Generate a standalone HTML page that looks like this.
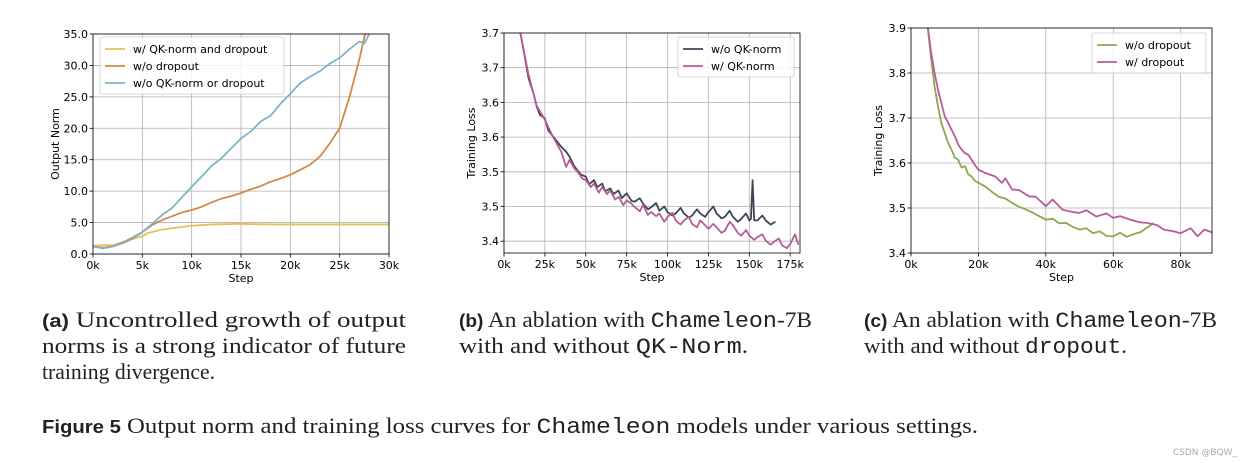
<!DOCTYPE html>
<html><head><meta charset="utf-8"><style>
body{margin:0;background:#fff;}
svg{display:block;font-family:"DejaVu Sans","Liberation Sans",sans-serif;}
.cap{font-family:"Liberation Serif",serif;font-size:22px;fill:#222;}
.tt{font-family:"Liberation Mono",monospace;}
.bl{font-family:"Liberation Sans",sans-serif;font-weight:bold;}
</style></head><body>
<svg id="fig" width="1243" height="463" viewBox="0 0 1243 463">
<g id="c1"></g>
<g id="c2"></g>
<g id="c3"></g>
<g>
<text class="cap" x="42" y="327" textLength="364" lengthAdjust="spacingAndGlyphs"><tspan class="bl" font-size="18">(a)</tspan>  Uncontrolled growth of output</text>
<text class="cap" x="42" y="353" textLength="364" lengthAdjust="spacingAndGlyphs">norms is a strong indicator of future</text>
<text class="cap" x="42" y="379" textLength="173" lengthAdjust="spacingAndGlyphs">training divergence.</text>
</g>
<g>
<text class="cap" x="459" y="327" textLength="353" lengthAdjust="spacingAndGlyphs"><tspan class="bl" font-size="18">(b)</tspan> An ablation with <tspan class="tt">Chameleon</tspan>-7B</text>
<text class="cap" x="459" y="353" textLength="289" lengthAdjust="spacingAndGlyphs">with and without <tspan class="tt">QK-Norm</tspan>.</text>
</g>
<g>
<text class="cap" x="864" y="327" textLength="353" lengthAdjust="spacingAndGlyphs"><tspan class="bl" font-size="18">(c)</tspan> An ablation with <tspan class="tt">Chameleon</tspan>-7B</text>
<text class="cap" x="864" y="353" textLength="263" lengthAdjust="spacingAndGlyphs">with and without <tspan class="tt">dropout</tspan>.</text>
</g>
<text class="cap" x="42" y="433" textLength="936" lengthAdjust="spacingAndGlyphs"><tspan class="bl" font-size="18">Figure 5</tspan>  Output norm and training loss curves for <tspan class="tt">Chameleon</tspan> models under various settings.</text>
<text x="1237" y="455" text-anchor="end" font-size="9" fill="#aaa">CSDN @BQW_</text>
</svg>
<script>
// ---- Chart A data ----
const aTicksX=[0,5,10,15,20,25,30];
const aTickLabelsX=["0k","5k","10k","15k","20k","25k","30k"];
const aTicksY=[0,5,10,15,20,25,30,35];
const aTickLabelsY=["0.0","5.0","10.0","15.0","20.0","25.0","30.0","35.0"];
const aYellowX=[0,1,2,3,4,5,5.5,6,7,8,10,12,15,18,20,25,30];
const aYellowY=[1.3,1.4,1.4,1.9,2.4,2.8,3.3,3.5,3.9,4.1,4.5,4.7,4.8,4.7,4.7,4.7,4.7];
const aOrangeX=[0,1,2,3,4,5,6,7,8,9,10,11,12,13,14,15,16,17,18,19,20,21,22,23,24,25,25.5,26,26.5,27,27.5,27.8];
const aOrangeY=[1.2,1.0,1.2,1.8,2.6,3.5,4.6,5.4,6.0,6.6,7.0,7.5,8.2,8.8,9.2,9.7,10.3,10.8,11.5,12.0,12.6,13.4,14.2,15.5,17.6,20.0,22.5,25.0,28.0,31.0,34.5,36];
const aBlueX=[0,1,2,3,4,5,6,7,8,9,10,11,12,13,14,15,16,17,18,19,20,21,22,23,24,25,26,27,27.5,28,28.5];
const aBlueY=[1.2,0.9,1.2,1.7,2.4,3.5,4.8,6.2,7.3,9.0,10.7,12.3,14.0,15.2,16.8,18.4,19.5,21.1,22.0,23.9,25.5,27.2,28.2,29.1,30.3,31.2,32.6,33.8,33.5,35,35.5];
// ---- Chart B data ----
const bTicksX=[0,25,50,75,100,125,150,175];
const bTickLabelsX=["0k","25k","50k","75k","100k","125k","150k","175k"];
const bTicksY=[3.40,3.45,3.50,3.55,3.60,3.65,3.70];
const bTickLabelsY=["3.4","3.5","3.5","3.6","3.6","3.7","3.7"];
const bDarkX=[10,13,15,18,20,22,25,27,30,33,35,38,40,43,45,47,50,52,55,57,60,62,65,67,70,72,75,78,80,83,85,88,90,93,95,98,100,103,105,108,110,113,115,118,120,123,125,128,130,133,135,138,140,143,145,148,150,151,152,153,155,158,160,163,166];
const bDarkY=[3.70,3.662,3.635,3.613,3.594,3.582,3.577,3.560,3.551,3.542,3.536,3.529,3.522,3.508,3.502,3.496,3.493,3.482,3.488,3.478,3.483,3.472,3.476,3.468,3.473,3.462,3.469,3.458,3.457,3.462,3.454,3.446,3.449,3.455,3.444,3.450,3.442,3.437,3.440,3.448,3.440,3.434,3.437,3.446,3.440,3.435,3.442,3.450,3.440,3.433,3.435,3.444,3.435,3.428,3.432,3.440,3.430,3.432,3.488,3.430,3.430,3.437,3.430,3.424,3.428];
const bPinkX=[10,15,20,25,30,35,38,40,43,45,48,50,53,55,58,60,63,65,68,70,73,75,78,80,83,85,88,90,93,95,98,100,103,105,108,110,113,115,118,120,123,125,128,130,133,135,138,140,143,145,148,150,153,155,158,160,163,165,168,170,173,175,178,180];
const bPinkY=[3.70,3.64,3.595,3.575,3.55,3.529,3.507,3.517,3.505,3.50,3.49,3.488,3.478,3.483,3.47,3.478,3.468,3.473,3.46,3.464,3.452,3.459,3.454,3.449,3.443,3.452,3.438,3.442,3.436,3.44,3.428,3.435,3.441,3.43,3.424,3.43,3.435,3.425,3.42,3.43,3.423,3.418,3.425,3.42,3.412,3.415,3.428,3.423,3.412,3.408,3.416,3.408,3.402,3.406,3.41,3.401,3.395,3.399,3.404,3.394,3.39,3.396,3.41,3.395];
// ---- Chart C data ----
const cTicksX=[0,20,40,60,80];
const cTickLabelsX=["0k","20k","40k","60k","80k"];
const cTicksY=[3.4,3.5,3.6,3.7,3.8,3.9];
const cTickLabelsY=["3.4","3.5","3.6","3.7","3.8","3.9"];
const cGreenX=[5,6,7,8,9,10,11,12,13,14,15,16,17,18,19,20,22,24,26,28,30,32,34,36,38,40,42,44,46,48,50,52,54,56,58,60,62,64,66,68,70,72];
const cGreenY=[3.9,3.83,3.77,3.726,3.689,3.667,3.645,3.63,3.612,3.607,3.59,3.593,3.575,3.57,3.56,3.556,3.548,3.536,3.525,3.521,3.511,3.503,3.497,3.49,3.482,3.474,3.476,3.466,3.467,3.458,3.452,3.455,3.444,3.448,3.438,3.437,3.445,3.436,3.442,3.446,3.456,3.467];
const cPinkX=[5,6,7,8,9,10,11,12,13,14,15,16,17,18,19,20,22,25,27,28,30,32,35,37,40,42,45,48,50,52,55,58,60,62,65,68,70,73,75,78,80,83,85,87,90];
const cPinkY=[3.9,3.844,3.8,3.763,3.733,3.704,3.69,3.674,3.66,3.641,3.63,3.622,3.618,3.607,3.595,3.585,3.578,3.57,3.556,3.566,3.541,3.54,3.526,3.525,3.504,3.519,3.496,3.491,3.489,3.495,3.481,3.488,3.478,3.482,3.474,3.468,3.467,3.462,3.452,3.448,3.444,3.455,3.437,3.452,3.444];

const NS="http://www.w3.org/2000/svg";
function mk(p,tag,at){const e=document.createElementNS(NS,tag);for(const k in at)e.setAttribute(k,at[k]);p.appendChild(e);return e;}
function chart(g,box,xd,yd,tx,txl,ty,tyl,ylabel,series,legend){
  const [L,T,R,B]=box;
  const sx=v=>L+(v-xd[0])/(xd[1]-xd[0])*(R-L);
  const sy=v=>B-(v-yd[0])/(yd[1]-yd[0])*(B-T);
  tx.forEach((v,i)=>{
    const gl=mk(g,'line',{x1:sx(v),x2:sx(v),y1:T,y2:B,stroke:'#b0b0b0','stroke-width':0.8});
    
    
    mk(g,'line',{x1:sx(v),x2:sx(v),y1:B,y2:B+3.5,stroke:'#000','stroke-width':0.8});
    const t=mk(g,'text',{x:sx(v),y:B+15,'text-anchor':'middle','font-size':11,fill:'#000'});t.textContent=txl[i];
    
    
  });
  ty.forEach((v,i)=>{
    const gl=mk(g,'line',{x1:L,x2:R,y1:sy(v),y2:sy(v),stroke:'#b0b0b0','stroke-width':0.8});
    
    
    mk(g,'line',{x1:L-3.5,x2:L,y1:sy(v),y2:sy(v),stroke:'#000','stroke-width':0.8});
    const t=mk(g,'text',{x:L-5,y:sy(v)+4,'text-anchor':'end','font-size':11,fill:'#000'});t.textContent=tyl[i];
    
    
  });
  const cp='cp'+g.id;
  const d=mk(g,'defs',{});const c=mk(d,'clipPath',{id:cp});mk(c,'rect',{x:L,y:T,width:R-L,height:B-T});
  series.forEach(s=>{
    const p=mk(g,'polyline',{points:s.x.map((v,i)=>sx(v)+','+sy(s.y[i])).join(' '),fill:'none',stroke:s.c,'stroke-width':1.8,'clip-path':'url(#'+cp+')','stroke-linejoin':'round'});
    
    
  });
  const fr=mk(g,'rect',{x:L,y:T,width:R-L,height:B-T,fill:'none',stroke:'#000','stroke-width':0.8});
  
  
  const xl=mk(g,'text',{x:(L+R)/2,y:B+28,'text-anchor':'middle','font-size':11});xl.textContent='Step';
  
  
  const ylx=L-(ylabel==='Output Norm'?34:29);
  const yl=mk(g,'text',{x:ylx,y:(T+B)/2,'text-anchor':'middle','font-size':11,transform:'rotate(-90 '+ylx+' '+((T+B)/2)+')'});yl.textContent=ylabel;
  
  
  const lg=mk(g,'g',{});
  
  
  mk(lg,'rect',{x:legend.x,y:legend.y,width:legend.w,height:series.length*17+6,fill:'#fff','fill-opacity':0.85,stroke:'#ccc','stroke-width':0.8,rx:2});
  series.forEach((s,i)=>{
    const yy=legend.y+12+i*17;
    mk(lg,'line',{x1:legend.x+5,x2:legend.x+25,y1:yy,y2:yy,stroke:s.c,'stroke-width':1.8});
    const t=mk(lg,'text',{x:legend.x+33,y:yy+4,'font-size':11});t.textContent=s.l;
    
    
  });
}
chart(document.getElementById('c1'),[93,34,389,254],[0,30],[0,35],aTicksX,aTickLabelsX,aTicksY,aTickLabelsY,'Output Norm',
 [{x:aYellowX,y:aYellowY,c:'#e8bf5a',l:'w/ QK-norm and dropout',n:'line-qk-norm-and-dropout'},
  {x:aOrangeX,y:aOrangeY,c:'#cf8b47',l:'w/o dropout',n:'line-wo-dropout'},
  {x:aBlueX,y:aBlueY,c:'#7fb3cb',l:'w/o QK-norm or dropout',n:'line-wo-qk-norm-or-dropout'}],
 {x:100,y:37,w:184});
chart(document.getElementById('c2'),[504,33,800,253],[0,181],[3.383,3.70],bTicksX,bTickLabelsX,bTicksY,bTickLabelsY,'Training Loss',
 [{x:bDarkX,y:bDarkY,c:'#3d4557',l:'w/o QK-norm',n:'line-wo-qk-norm'},
  {x:bPinkX,y:bPinkY,c:'#b65d98',l:'w/ QK-norm',n:'line-w-qk-norm'}],
 {x:678,y:37,w:116});
chart(document.getElementById('c3'),[911,28,1212,253],[0,89.3],[3.4,3.9],cTicksX,cTickLabelsX,cTicksY,cTickLabelsY,'Training Loss',
 [{x:cGreenX,y:cGreenY,c:'#8ea653',l:'w/o dropout',n:'line-wo-dropout'},
  {x:cPinkX,y:cPinkY,c:'#b65d98',l:'w/ dropout',n:'line-w-dropout'}],
 {x:1092,y:33,w:114});
</script>
</body></html>
